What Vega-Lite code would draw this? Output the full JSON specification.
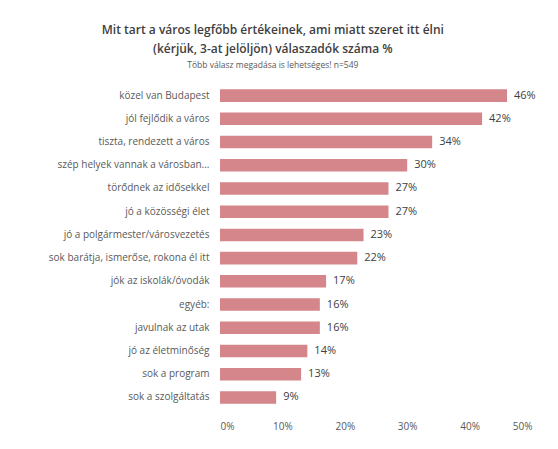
{
  "$schema": "https://vega.github.io/schema/vega-lite/v6.json",
  "width": 312,
  "height": 325,
  "padding": {"left": 10, "top": 23, "right": 10, "bottom": 5},
  "background": "#ffffff",
  "title": {
    "text": ["Mit tart a város legfőbb értékeinek, ami miatt szeret itt élni", "(kérjük, 3-at jelöljön) válaszadók száma %"],
    "subtitle": "Több válasz megadása is lehetséges! n=549",
    "anchor": "middle",
    "frame": "bounds",
    "font": "Open Sans",
    "fontSize": 12,
    "fontWeight": 600,
    "lineHeight": 19,
    "color": "#404040",
    "subtitleFont": "Open Sans",
    "subtitleFontSize": 8.5,
    "subtitleColor": "#595959",
    "subtitlePadding": 5,
    "offset": 14
  },
  "data": {
    "values": [
      {"label": "közel van Budapest", "value": 0.46},
      {"label": "jól fejlődik a város", "value": 0.42},
      {"label": "tiszta, rendezett a város", "value": 0.34},
      {"label": "szép helyek vannak a városban...", "value": 0.30},
      {"label": "törődnek az idősekkel", "value": 0.27},
      {"label": "jó a közösségi élet", "value": 0.27},
      {"label": "jó a polgármester/városvezetés", "value": 0.23},
      {"label": "sok barátja, ismerőse, rokona él itt", "value": 0.22},
      {"label": "jók az iskolák/óvodák", "value": 0.17},
      {"label": "egyéb:", "value": 0.16},
      {"label": "javulnak az utak", "value": 0.16},
      {"label": "jó az életminőség", "value": 0.14},
      {"label": "sok a program", "value": 0.13},
      {"label": "sok a szolgáltatás", "value": 0.09}
    ]
  },
  "encoding": {
    "y": {
      "field": "label",
      "type": "nominal",
      "sort": null,
      "scale": {"paddingInner": 0.46, "paddingOuter": 0.23},
      "axis": {
        "title": null,
        "domain": false,
        "ticks": false,
        "labelPadding": 11,
        "labelFont": "Open Sans",
        "labelFontSize": 10,
        "labelColor": "#595959",
        "labelLimit": 220,
        "minExtent": 210,
        "maxExtent": 210
      }
    },
    "x": {
      "field": "value",
      "type": "quantitative",
      "scale": {"domain": [0, 0.5], "nice": false},
      "axis": {
        "title": null,
        "format": ".0%",
        "values": [0, 0.1, 0.2, 0.3, 0.4, 0.5],
        "labelOverlap": false,
        "domain": false,
        "ticks": false,
        "grid": false,
        "labelPadding": 12,
        "labelFont": "Open Sans",
        "labelFontSize": 10,
        "labelColor": "#595959"
      }
    }
  },
  "layer": [
    {"mark": {"type": "bar", "color": "#d4868a"}},
    {
      "mark": {"type": "text", "align": "left", "dx": 7, "font": "Open Sans", "fontSize": 11, "color": "#404040"},
      "encoding": {"text": {"field": "value", "type": "quantitative", "format": ".0%"}}
    }
  ],
  "config": {"view": {"stroke": null}}
}
